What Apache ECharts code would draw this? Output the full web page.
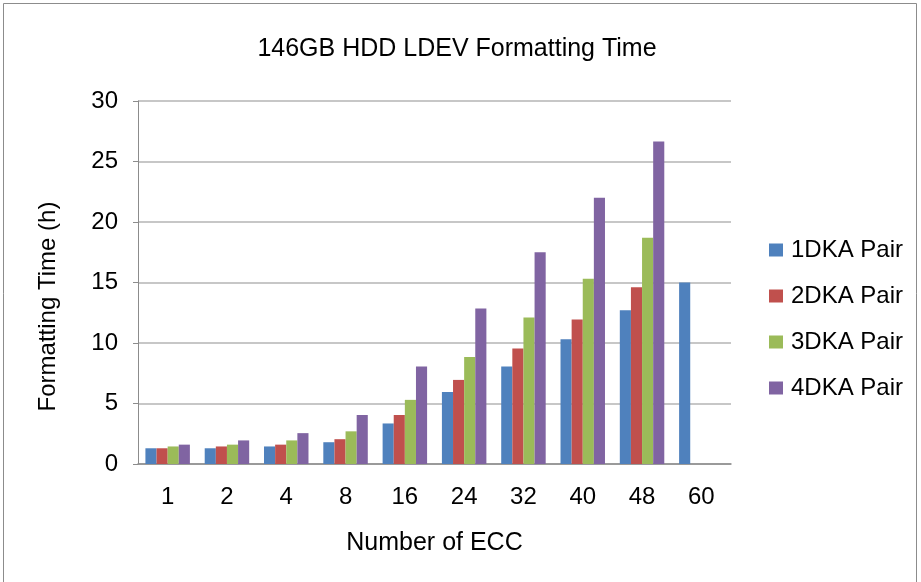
<!DOCTYPE html>
<html>
<head>
<meta charset="utf-8">
<script src="https://cdn.jsdelivr.net/npm/echarts@6/dist/echarts.min.js"></script>
<style>
  html, body { margin: 0; padding: 0; background: #fff; }
  #chart { width: 921px; height: 582px; }
</style>
</head>
<body>
<div id="chart"></div>
<script>
// categories and values
var eccCounts = ['1', '2', '4', '8', '16', '24', '32', '40', '48', '60']
var seriesNames = ['1DKA Pair', '2DKA Pair', '3DKA Pair', '4DKA Pair']
var pair1 = [1.3, 1.3, 1.45, 1.8, 3.35, 5.95, 8.05, 10.3, 12.7, 15.0]
var pair2 = [1.3, 1.45, 1.6, 2.05, 4.05, 6.95, 9.55, 11.95, 14.6, null]
var pair3 = [1.45, 1.6, 1.95, 2.7, 5.3, 8.85, 12.1, 15.3, 18.7, null]
var pair4 = [1.6, 1.95, 2.55, 4.05, 8.05, 12.85, 17.5, 22.0, 26.65, null]
var yTicks = [0, 5, 10, 15, 20, 25, 30]

var colors = ['#4f81bd', '#c0504d', '#9bbb59', '#8064a2']
var font = 'Liberation Sans, Arial, sans-serif'

var chart = echarts.init(document.getElementById('chart'))
var allData = [pair1, pair2, pair3, pair4]

chart.setOption({
  backgroundColor: '#fff',
  animation: false,
  color: colors,
  textStyle: { fontFamily: font },
  graphic: [{
    type: 'rect',
    shape: { x: 3.5, y: 3.5, width: 913, height: 600 },
    style: { fill: 'none', stroke: '#8c8c8c', lineWidth: 1 },
    silent: true
  }],
  title: {
    text: '146GB HDD LDEV Formatting Time',
    left: 452,
    textAlign: 'center',
    top: 32,
    textStyle: { fontFamily: font, fontSize: 25, fontWeight: 'normal', color: '#000' }
  },
  legend: {
    orient: 'vertical',
    left: 764,
    top: 233,
    itemWidth: 14,
    itemHeight: 13,
    itemGap: 22,
    icon: 'rect',
    data: seriesNames,
    textStyle: { fontFamily: font, fontSize: 24, color: '#000', padding: [0, 0, 0, 3] }
  },
  grid: { left: 138, right: 190, top: 101, bottom: 118, containLabel: false },
  xAxis: {
    type: 'category',
    data: eccCounts,
    name: 'Number of ECC',
    nameLocation: 'middle',
    nameGap: 67,
    nameTextStyle: { fontFamily: font, fontSize: 25, color: '#000' },
    axisLine: { lineStyle: { color: '#8c8c8c', width: 1.5 } },
    axisTick: { show: false },
    axisLabel: { fontFamily: font, fontSize: 24, color: '#000', margin: 21 }
  },
  yAxis: {
    type: 'value',
    min: yTicks[0],
    max: yTicks[yTicks.length - 1],
    interval: 5,
    name: 'Formatting Time (h)',
    nameLocation: 'middle',
    nameGap: 78,
    nameTextStyle: { fontFamily: font, fontSize: 24, color: '#000', padding: [0, 48, 0, 0] },
    axisLine: { show: true, lineStyle: { color: '#8c8c8c', width: 1 } },
    axisTick: { show: true, length: 5, lineStyle: { color: '#8c8c8c' } },
    axisLabel: { fontFamily: font, fontSize: 24, color: '#000', margin: 20 },
    splitLine: { lineStyle: { color: '#b4b4b4', width: 1.5 } }
  },
  series: seriesNames.map(function (name, i) {
    return {
      name: name,
      type: 'bar',
      data: allData[i],
      barGap: '0%',
      barCategoryGap: '25%',
      itemStyle: { color: colors[i] }
    }
  })
})
</script>
</body>
</html>
